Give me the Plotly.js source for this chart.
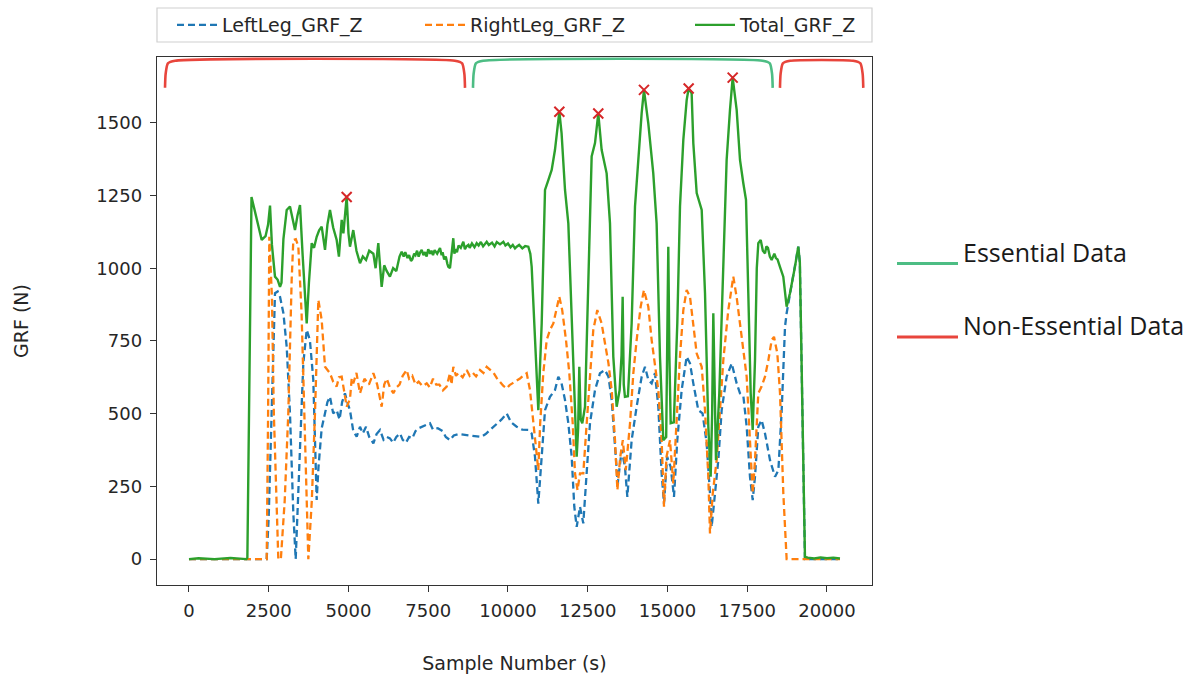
<!DOCTYPE html>
<html>
<head>
<meta charset="utf-8">
<script src="https://cdn.plot.ly/plotly-3.0.1.min.js"></script>
<style>
  html, body { margin: 0; padding: 0; background: #ffffff; }
  #chart { width: 1203px; height: 677px; }
</style>
</head>
<body>
<div id="chart"></div>
<script>
// ---------------- data: [sample, GRF (N)] ----------------
const leftLegPoints = [[0,0],[1000,0],[2000,0],[2436,0],[2500,150],[2592,501],[2696,914],[2780,920],[2853,902],[2960,845],[3063,730],[3166,501],[3271,157],[3345,0],[3400,150],[3480,386],[3584,673],[3690,788],[3790,753],[3897,616],[3950,400],[4003,203],[4060,317],[4160,450],[4264,501],[4340,540],[4420,558],[4520,501],[4630,512],[4720,480],[4800,540],[4890,570],[4960,540],[5047,512],[5150,440],[5257,421],[5361,455],[5450,432],[5550,455],[5650,420],[5780,398],[5880,430],[5988,444],[6100,410],[6200,420],[6300,415],[6400,400],[6500,420],[6615,432],[6700,410],[6800,400],[6900,420],[7000,415],[7100,440],[7200,450],[7295,455],[7400,460],[7555,467],[7650,445],[7800,450],[7950,440],[8050,420],[8182,409],[8300,425],[8450,430],[8600,428],[8750,425],[9019,421],[9150,420],[9300,430],[9450,445],[9646,467],[9800,480],[9960,501],[10100,470],[10273,455],[10450,445],[10638,444],[10743,432],[10847,352],[10951,191],[11057,352],[11161,512],[11317,558],[11474,581],[11578,627],[11680,604],[11788,547],[11892,467],[11997,352],[12079,180],[12154,111],[12258,180],[12361,123],[12468,295],[12571,467],[12728,581],[12884,639],[13041,650],[13150,627],[13251,547],[13355,375],[13440,260],[13565,375],[13667,317],[13742,214],[13877,409],[14034,524],[14191,627],[14295,661],[14400,616],[14504,604],[14608,639],[14713,524],[14817,295],[14891,191],[14990,352],[15101,317],[15204,214],[15308,409],[15445,581],[15602,696],[15706,673],[15810,604],[15967,512],[16100,501],[16229,398],[16333,226],[16385,111],[16490,226],[16594,340],[16699,512],[16855,627],[17013,673],[17169,604],[17274,570],[17380,560],[17483,455],[17587,283],[17672,203],[17744,283],[17848,455],[17950,478],[18058,432],[18215,340],[18372,283],[18477,306],[18581,512],[18685,799],[18736,845],[18840,914],[18997,1005],[19101,1074],[19150,1020],[19200,700],[19258,340],[19310,0],[19500,0],[20000,0],[20408,0]];

const rightLegPoints = [[0,0],[2436,0],[2480,500],[2518,1108],[2600,902],[2660,501],[2800,0],[2880,0],[3000,200],[3113,501],[3219,960],[3271,1097],[3350,1100],[3428,1074],[3530,845],[3636,386],[3741,0],[3850,200],[3950,501],[4055,891],[4160,822],[4264,661],[4340,650],[4420,639],[4520,610],[4630,593],[4700,625],[4787,627],[4860,580],[4943,524],[5047,550],[5100,620],[5150,604],[5250,640],[5361,570],[5430,600],[5500,620],[5640,600],[5780,639],[5900,600],[6040,524],[6120,600],[6200,620],[6300,590],[6405,570],[6500,590],[6600,600],[6700,630],[6824,650],[6900,620],[7000,630],[7100,600],[7200,610],[7320,595],[7452,604],[7550,590],[7650,620],[7750,600],[7850,600],[7960,580],[8078,593],[8182,640],[8230,600],[8286,661],[8370,630],[8450,640],[8580,625],[8706,650],[8800,630],[8900,640],[9000,628],[9123,650],[9230,640],[9333,661],[9450,648],[9550,640],[9650,622],[9750,610],[9850,596],[9960,587],[10050,598],[10150,605],[10260,612],[10377,621],[10500,632],[10587,639],[10690,581],[10790,467],[10899,352],[10951,306],[11010,467],[11107,639],[11214,753],[11317,788],[11422,810],[11527,868],[11609,902],[11700,856],[11819,753],[11923,639],[12029,467],[12101,295],[12180,237],[12258,295],[12361,295],[12468,467],[12571,639],[12675,788],[12800,856],[12936,810],[13041,742],[13150,673],[13251,581],[13355,409],[13430,237],[13520,352],[13600,409],[13692,306],[13826,467],[13930,639],[14034,753],[14160,868],[14263,925],[14399,868],[14504,753],[14608,661],[14713,581],[14817,409],[14891,180],[14970,352],[15079,409],[15183,260],[15288,467],[15392,696],[15497,856],[15602,925],[15706,902],[15810,799],[15916,707],[16073,661],[16177,512],[16281,283],[16333,88],[16420,226],[16542,340],[16647,512],[16751,684],[16907,856],[17064,971],[17169,900],[17274,799],[17378,719],[17483,627],[17587,398],[17672,226],[17744,340],[17848,570],[17950,593],[18058,627],[18163,684],[18267,753],[18340,764],[18444,707],[18528,570],[18632,226],[18736,0],[19310,0],[19500,0],[20000,0],[20408,0]];

const totalPoints = [[0,0],[300,3],[800,0],[1300,4],[1800,0],[1830,5],[1960,1245],[2050,1200],[2150,1150],[2279,1097],[2400,1110],[2480,1150],[2540,1215],[2600,1080],[2696,971],[2780,960],[2853,936],[2900,950],[2960,1100],[3063,1200],[3166,1212],[3250,1170],[3323,1131],[3400,1180],[3480,1217],[3560,1050],[3690,810],[3760,950],[3847,1086],[3920,1070],[4003,1108],[4080,1130],[4160,1143],[4264,1063],[4340,1150],[4420,1200],[4520,1140],[4630,1097],[4700,1040],[4787,1166],[4840,1120],[4943,1245],[5000,1120],[5047,1074],[5150,1131],[5250,1060],[5361,1017],[5450,1040],[5550,1028],[5650,1060],[5780,1050],[5850,1000],[5935,1086],[6040,936],[6120,1010],[6200,990],[6300,971],[6400,1000],[6500,990],[6600,1040],[6668,1057],[6730,1040],[6780,1055],[6850,1035],[6900,1045],[6960,1025],[7000,1030],[7060,1050],[7100,1045],[7150,1060],[7200,1040],[7250,1055],[7295,1063],[7350,1045],[7400,1055],[7450,1040],[7500,1065],[7560,1050],[7600,1060],[7650,1045],[7700,1062],[7780,1050],[7869,1069],[7920,1045],[7950,1055],[8000,1030],[8050,1040],[8100,1015],[8130,1005],[8182,1000],[8230,1060],[8286,1103],[8320,1050],[8350,1065],[8400,1055],[8450,1078],[8520,1070],[8600,1091],[8650,1065],[8700,1075],[8760,1080],[8800,1070],[8870,1085],[8950,1072],[9019,1086],[9080,1078],[9150,1090],[9220,1075],[9333,1091],[9400,1080],[9500,1088],[9580,1075],[9650,1090],[9750,1082],[9855,1091],[9920,1078],[10000,1085],[10080,1072],[10150,1080],[10220,1068],[10273,1074],[10350,1080],[10450,1068],[10540,1076],[10638,1074],[10700,1050],[10743,1005],[10800,880],[10847,730],[10951,512],[11057,810],[11161,1269],[11265,1303],[11370,1338],[11474,1407],[11578,1521],[11610,1538],[11680,1464],[11788,1269],[11892,1154],[11997,810],[12101,524],[12154,352],[12200,450],[12236,661],[12280,480],[12330,467],[12415,524],[12518,925],[12623,1384],[12728,1430],[12831,1532],[12936,1407],[13093,1326],[13198,1154],[13302,696],[13407,524],[13500,581],[13560,700],[13595,902],[13630,600],[13667,558],[13760,560],[13877,810],[13982,1212],[14086,1384],[14191,1533],[14263,1613],[14399,1498],[14555,1326],[14660,1154],[14765,696],[14869,409],[14960,420],[15000,800],[15026,1074],[15060,700],[15101,467],[15200,470],[15308,810],[15393,1212],[15497,1441],[15602,1578],[15664,1618],[15758,1601],[15810,1430],[15916,1258],[16073,1200],[16177,914],[16281,455],[16354,283],[16400,500],[16437,845],[16480,500],[16521,340],[16625,570],[16750,1028],[16855,1372],[16960,1544],[17044,1655],[17169,1544],[17274,1372],[17378,1292],[17462,1235],[17534,914],[17609,570],[17672,444],[17744,684],[17800,1000],[17848,1086],[17923,1097],[17990,1060],[18058,1051],[18100,1075],[18150,1070],[18210,1040],[18267,1028],[18350,1050],[18400,1035],[18450,1030],[18540,1000],[18631,971],[18736,868],[18840,914],[18997,1005],[19101,1074],[19150,1020],[19200,700],[19258,340],[19310,8],[19400,5],[19600,2],[19800,6],[20000,3],[20200,5],[20408,2]];

// detected peaks of Total_GRF_Z
const peakSample = [4943, 11610, 12831, 14263, 15664, 17044];
const peakGRF = [1245, 1538, 1532, 1613, 1618, 1655];

// bracket annotations over the signal (sample ranges)
const bracketStart = [-752, 8903, 18527];
const bracketEnd = [8653, 18299, 21139];
const bracketIsEssential = [false, true, false];
const bracketTop = 1713;
const bracketFoot = 1620;

const xTicks = [0, 2500, 5000, 7500, 10000, 12500, 15000, 17500, 20000];
const yTicks = [0, 250, 500, 750, 1000, 1250, 1500];

const seriesNames = ['LeftLeg_GRF_Z', 'RightLeg_GRF_Z', 'Total_GRF_Z'];
const keyLabels = ['Essential Data', 'Non-Essential Data'];

// ---------------- styling ----------------
const FONT = 'DejaVu Sans, sans-serif';
const TXT = '#262626';
const GREEN_MARK = '#4dbd84';
const RED_MARK = '#e8453c';
const col = (pts, i) => pts.map(p => p[i]);

const traces = [];
traces.push({
  x: col(leftLegPoints, 0), y: col(leftLegPoints, 1), type: 'scatter', mode: 'lines', name: seriesNames[0],
  line: { color: '#1f77b4', width: 2.3, dash: '7px,4px' }, legend: 'legend'
});
traces.push({
  x: col(rightLegPoints, 0), y: col(rightLegPoints, 1), type: 'scatter', mode: 'lines', name: seriesNames[1],
  line: { color: '#ff7f0e', width: 2.3, dash: '7px,4px' }, legend: 'legend2'
});
traces.push({
  x: col(totalPoints, 0), y: col(totalPoints, 1), type: 'scatter', mode: 'lines', name: seriesNames[2],
  line: { color: '#2ca02c', width: 2.4 }, legend: 'legend3'
});
traces.push({
  x: peakSample, y: peakGRF, type: 'scatter', mode: 'markers', name: 'peaks', showlegend: false,
  marker: { symbol: 'x-thin', size: 10, color: '#d62728', line: { color: '#d62728', width: 2 } }
});
for (let i = 0; i < bracketStart.length; i++) {
  const s = bracketStart[i], e = bracketEnd[i];
  traces.push({
    x: [s, s + 20, s + 90, s + 320, e - 320, e - 90, e - 20, e],
    y: [bracketFoot, bracketTop - 45, bracketTop - 9, bracketTop, bracketTop, bracketTop - 9, bracketTop - 45, bracketFoot],
    type: 'scatter', mode: 'lines', showlegend: false, hoverinfo: 'skip',
    line: { color: bracketIsEssential[i] ? GREEN_MARK : RED_MARK, width: 2.6, shape: 'spline', smoothing: 0.6 }
  });
}

// pixel helpers for paper coordinates (plot area 157..872 x 57..585)
const PL = 157, PR = 872, PT = 57, PB = 585;
const px = v => (v - PL) / (PR - PL);
const py = v => (PB - v) / (PB - PT);

const legendCommon = {
  orientation: 'h', yanchor: 'middle', xanchor: 'left', y: py(25),
  bgcolor: 'rgba(0,0,0,0)', borderwidth: 0,
  font: { family: FONT, size: 19, color: TXT }, itemwidth: 40
};

const layout = {
  width: 1203, height: 677,
  margin: { l: PL, r: 1203 - PR, t: PT, b: 677 - PB, autoexpand: false },
  paper_bgcolor: '#ffffff', plot_bgcolor: '#ffffff',
  font: { family: FONT, size: 18, color: TXT },
  xaxis: {
    range: [-1003, 21412], tickvals: xTicks, ticktext: xTicks.map(String),
    showgrid: false, zeroline: false, showline: true, mirror: true,
    linecolor: '#333333', linewidth: 1.3, ticks: 'outside', ticklen: 6, tickcolor: '#333333',
    ticklabelstandoff: 3,
    tickfont: { family: FONT, size: 18, color: TXT },
    title: { text: 'Sample Number (s)', font: { family: FONT, size: 19, color: TXT }, standoff: 36 }
  },
  yaxis: {
    range: [-89, 1726], tickvals: yTicks, ticktext: yTicks.map(String),
    showgrid: false, zeroline: false, showline: true, mirror: true,
    linecolor: '#333333', linewidth: 1.3, ticks: 'outside', ticklen: 6, tickcolor: '#333333',
    ticklabelstandoff: 4,
    tickfont: { family: FONT, size: 18, color: TXT },
    title: { text: 'GRF (N)', font: { family: FONT, size: 19, color: TXT }, standoff: 62 }
  },
  legend: Object.assign({}, legendCommon, { x: px(172) }),
  legend2: Object.assign({}, legendCommon, { x: px(420) }),
  legend3: Object.assign({}, legendCommon, { x: px(690) }),
  shapes: [
    { type: 'rect', xref: 'paper', yref: 'paper', x0: px(157), x1: px(872), y0: py(42), y1: py(8),
      line: { color: '#d0d0d0', width: 1.2 }, fillcolor: 'rgba(255,255,255,0.8)', layer: 'below' },
    { type: 'line', xref: 'paper', yref: 'paper', x0: px(897), x1: px(958), y0: py(263.5), y1: py(263.5),
      line: { color: GREEN_MARK, width: 3 } },
    { type: 'line', xref: 'paper', yref: 'paper', x0: px(897), x1: px(958), y0: py(337), y1: py(337),
      line: { color: RED_MARK, width: 3 } }
  ],
  annotations: [
    { xref: 'paper', yref: 'paper', x: px(961), y: py(252), xanchor: 'left', yanchor: 'middle',
      text: keyLabels[0], showarrow: false, font: { family: 'Open Sans, sans-serif', size: 25, color: '#1a1a1a' } },
    { xref: 'paper', yref: 'paper', x: px(961), y: py(325), xanchor: 'left', yanchor: 'middle',
      text: keyLabels[1], showarrow: false, font: { family: 'Open Sans, sans-serif', size: 25, color: '#1a1a1a' } }
  ],
  showlegend: true
};

Plotly.newPlot('chart', traces, layout, { displayModeBar: false, staticPlot: true });
</script>
</body>
</html>
